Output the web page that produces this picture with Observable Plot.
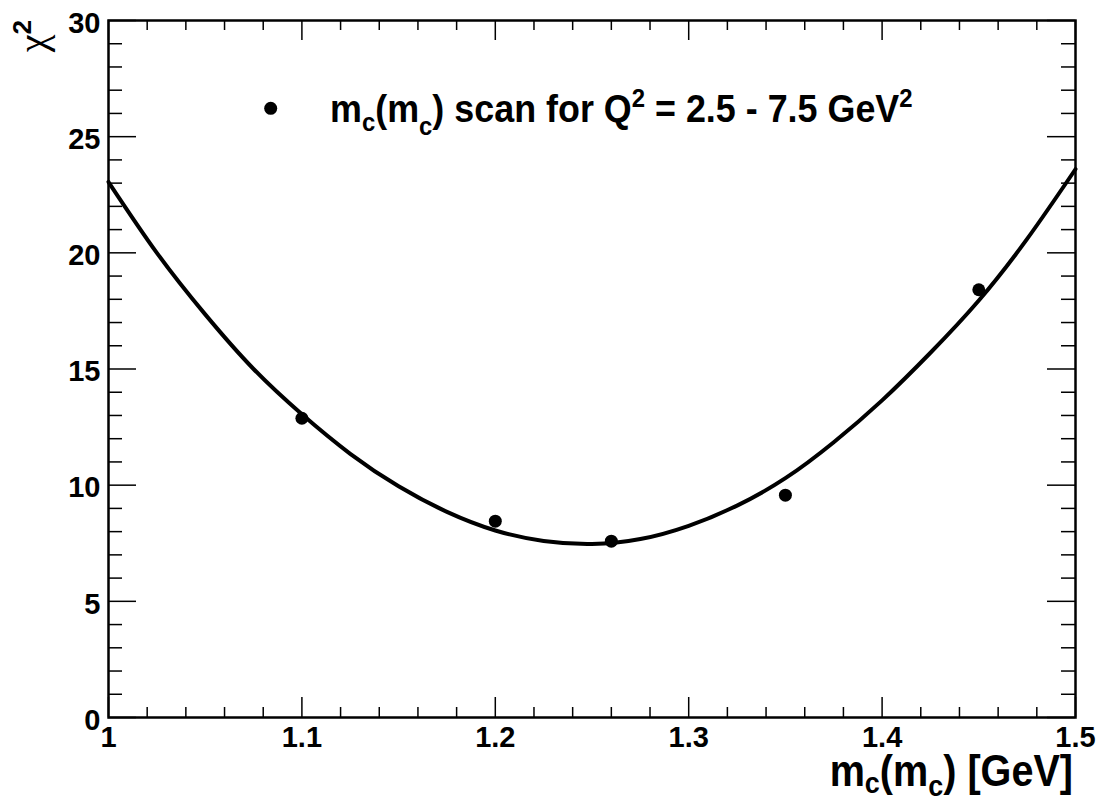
<!DOCTYPE html>
<html><head><meta charset="utf-8">
<script src="https://cdn.jsdelivr.net/npm/d3@7"></script>
<script src="https://cdn.jsdelivr.net/npm/@observablehq/plot@0.6"></script>
<style>body{margin:0;background:#fff;} svg{display:block;}</style>
</head><body><div id="chart"></div>
<script>
// scan points
const massPoints = [1.10, 1.20, 1.26, 1.35, 1.45];
const chi2Points = [12.88, 8.45, 7.59, 9.57, 18.41];
// fitted curve
const fitMass = [1.000, 1.025, 1.050, 1.075, 1.100, 1.125, 1.150, 1.175, 1.200, 1.225, 1.250, 1.275, 1.300, 1.325, 1.350, 1.375, 1.400, 1.425, 1.450, 1.475, 1.500];
const fitChi2 = [23.05, 20.00, 17.35, 15.00, 13.05, 11.35, 9.95, 8.85, 8.05, 7.60, 7.47, 7.68, 8.25, 9.12, 10.30, 11.85, 13.65, 15.70, 17.95, 20.60, 23.60];
// ticks
const xMajor = [1, 1.1, 1.2, 1.3, 1.4, 1.5];
const xMinor = [1.02,1.04,1.06,1.08,1.12,1.14,1.16,1.18,1.22,1.24,1.26,1.28,1.32,1.34,1.36,1.38,1.42,1.44,1.46,1.48];
const yMajor = [0, 5, 10, 15, 20, 25, 30];
const yMinor = [1,2,3,4,6,7,8,9,11,12,13,14,16,17,18,19,21,22,23,24,26,27,28,29];

const points = massPoints.map((m, i) => ({m, chi2: chi2Points[i]}));
const fit = fitMass.map((m, i) => ({m, chi2: fitChi2[i]}));

const W = 1098, H = 801, ML = 108, MR = 23, MT = 20, MB = 84;
const IW = W - ML - MR, IH = H - MT - MB;
const FONT = "'Liberation Sans', Arial, Helvetica, sans-serif";

const plot = Plot.plot({
  width: W, height: H,
  marginLeft: ML, marginRight: MR, marginTop: MT, marginBottom: MB,
  style: {fontFamily: FONT, background: "white", color: "black", overflow: "visible"},
  x: {domain: [1, 1.5]},
  y: {domain: [0, 30]},
  marks: [
    // ticks (inward, ROOT style)
    Plot.tickX(xMajor, {x: d => d, insetTop: IH - 20, stroke: "black", strokeWidth: 1.5}),
    Plot.tickX(xMajor, {x: d => d, insetBottom: IH - 20, stroke: "black", strokeWidth: 1.5}),
    Plot.tickX(xMinor, {x: d => d, insetTop: IH - 10, stroke: "black", strokeWidth: 1.5}),
    Plot.tickX(xMinor, {x: d => d, insetBottom: IH - 10, stroke: "black", strokeWidth: 1.5}),
    Plot.tickY(yMajor, {y: d => d, insetRight: IW - 28, stroke: "black", strokeWidth: 1.5}),
    Plot.tickY(yMajor, {y: d => d, insetLeft: IW - 28, stroke: "black", strokeWidth: 1.5}),
    Plot.tickY(yMinor, {y: d => d, insetRight: IW - 14, stroke: "black", strokeWidth: 1.5}),
    Plot.tickY(yMinor, {y: d => d, insetLeft: IW - 14, stroke: "black", strokeWidth: 1.5}),
    Plot.axisX(xMajor, {anchor: "bottom", tickSize: 0, tickPadding: 9, tickFormat: d => String(d),
      fontSize: 29, fontWeight: "bold", label: null}),
    Plot.axisY(yMajor, {anchor: "left", tickSize: 0, tickPadding: 8, tickFormat: d => String(d),
      fontSize: 29, fontWeight: "bold", dy: 3, label: null}),
    Plot.line(fit, {x: "m", y: "chi2", stroke: "black", strokeWidth: 4, curve: "natural"}),
    Plot.dot(points, {x: "m", y: "chi2", r: 6.5, fill: "black", stroke: "none"}),
    Plot.frame({stroke: "black", strokeWidth: 2.5})
  ]
});
document.getElementById("chart").appendChild(plot);

// titles and legend (rich text with sub/superscripts)
const svg = d3.select(plot);
function rich(g, parts) {
  parts.forEach(p => {
    const t = g.append("tspan").text(p.t);
    if (p.dy) t.attr("dy", p.dy);
    if (p.s) t.attr("font-size", p.s);
    if (p.f) t.attr("font-family", p.f).attr("font-weight", p.w || "normal");
  });
}
// x title (tall, narrow lettering as in the original)
const xt = svg.append("text")
  .attr("font-family", FONT).attr("font-weight", "bold").attr("font-size", 44)
  .attr("text-anchor", "end")
  .attr("transform", `translate(${W - MR - 2},786) scale(0.9,1)`);
rich(xt, [{t: "m"}, {t: "c", dy: 7, s: 30}, {t: "(m", dy: -7}, {t: "c", dy: 10, s: 30}, {t: ") [GeV]", dy: -10}]);

// y title
const yt = svg.append("text")
  .attr("font-family", FONT).attr("font-weight", "bold").attr("font-size", 40)
  .attr("text-anchor", "end")
  .attr("transform", `translate(46,${MT}) rotate(-90)`);
rich(yt, [{t: "χ", f: "'Liberation Serif', 'DejaVu Serif', serif", w: "normal"}, {t: "2", dy: -15, s: 26}]);

// legend
const lg = svg.append("g");
lg.append("circle").attr("cx", 270.7).attr("cy", 108.3).attr("r", 6.5).attr("fill", "black");
const lt = lg.append("text")
  .attr("font-family", FONT).attr("font-weight", "bold").attr("font-size", 39)
  .attr("text-anchor", "start")
  .attr("transform", "translate(330,122) scale(0.92,1)");
rich(lt, [{t: "m"}, {t: "c", dy: 9, s: 26}, {t: "(m", dy: -9}, {t: "c", dy: 13, s: 26},
  {t: ") scan for Q", dy: -13}, {t: "2", dy: -15, s: 26}, {t: " = 2.5 - 7.5 GeV", dy: 15}, {t: "2", dy: -15, s: 26}]);
</script>
</body></html>
